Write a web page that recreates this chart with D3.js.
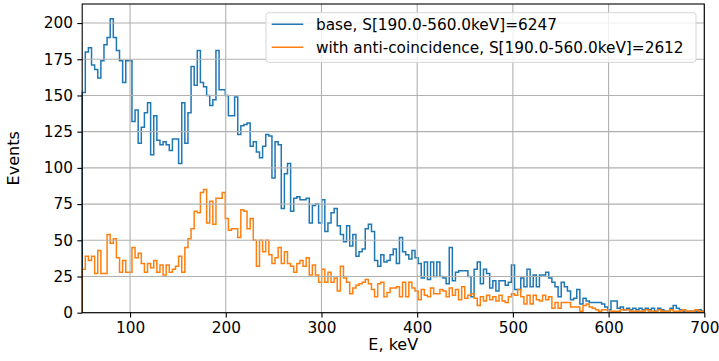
<!DOCTYPE html>
<html>
<head>
<meta charset="utf-8">
<script src="https://cdn.jsdelivr.net/npm/d3@7/dist/d3.min.js"></script>
<style>
  body { margin: 0; background: #fff; }
  text { font-family: "DejaVu Sans", sans-serif; }
</style>
</head>
<body>
<div id="chart"></div>
<script>
// histogram range, keV
const binStart = 50;
const binEnd = 700;

// counts per bin (200 bins)
const baseCounts = [
  152,180,183,171,168,162,174,185,190,203,190,181,174,159,174,174,132,140,117,128,
  138,145,109,136,119,116,118,116,112,120,120,103,145,117,138,170,157,181,159,156,
  150,143,147,181,154,154,150,136,136,149,123,129,130,131,115,118,111,107,115,123,
  122,93,118,116,72,96,103,70,79,80,78,78,79,62,74,75,62,78,56,62,
  69,72,60,54,49,60,46,54,39,42,44,58,61,56,36,32,40,35,36,40,
  44,34,52,42,40,37,43,38,34,24,35,23,35,25,35,25,24,20,45,22,
  28,29,29,29,25,11,30,35,20,30,27,17,22,15,22,22,19,21,33,16,
  16,24,18,30,18,26,18,26,26,28,24,21,18,11,21,18,15,9,10,16,
  6,10,8,7,7,7,7,6,4,2,8,8,3,4,2,3,2,3,2,3,
  2,3,2,3,1,3,2,1,1,3,5,3,2,1,1,1,1,1,2,1
];
const antiCounts = [
  30,39,36,39,27,43,27,27,54,48,51,38,28,36,28,28,45,38,41,34,
  28,34,31,36,28,33,26,33,28,30,32,39,28,45,51,58,70,69,83,85,
  62,77,61,79,79,83,65,57,58,58,52,71,70,58,65,50,32,50,42,50,
  40,34,38,45,34,42,34,32,28,34,36,32,38,26,33,26,21,30,21,28,
  21,24,15,32,24,21,13,17,19,20,21,23,20,16,11,20,21,11,14,17,
  17,18,11,21,11,21,17,15,9,16,12,11,17,13,13,16,15,11,17,12,
  16,9,18,10,12,13,10,5,11,8,12,9,11,8,12,8,7,11,13,12,
  16,11,6,12,6,12,9,8,12,9,11,3,7,3,7,7,7,4,4,4,
  1,5,6,4,3,2,1,2,2,1,1,1,1,2,2,2,1,1,1,1,
  1,2,1,1,1,2,1,1,1,2,1,1,1,2,1,1,1,2,1,1
];

const seriesNames = ['base, S[190.0-560.0keV]=6247', 'with anti-coincidence, S[190.0-560.0keV]=2612'];
const seriesColors = ['#1f77b4', '#ff7f0e'];
const xTicks = [100, 200, 300, 400, 500, 600, 700];
const yTicks = [0, 25, 50, 75, 100, 125, 150, 175, 200];
const xLabel = 'E, keV';
const yLabel = 'Events';

const W = 719, H = 361;
const margin = { top: 4, right: 14.7, bottom: 48.3, left: 82.2 };
const width = W - margin.left - margin.right;
const height = H - margin.top - margin.bottom;

const svg = d3.select('#chart').append('svg')
  .attr('width', W).attr('height', H);

const g = svg.append('g')
  .attr('transform', `translate(${margin.left},${margin.top})`);

const yMax = d3.max(baseCounts.concat(antiCounts)) * 1.05;
const x = d3.scaleLinear().domain([binStart, binEnd]).range([0, width]);
const y = d3.scaleLinear().domain([0, yMax]).range([height, 0]);

const binW = (binEnd - binStart) / baseCounts.length;

function stepPath(counts) {
  const pts = [[x(binStart), y(0)]];
  counts.forEach((c, i) => {
    pts.push([x(binStart + i * binW), y(c)]);
    pts.push([x(binStart + (i + 1) * binW), y(c)]);
  });
  pts.push([x(binEnd), y(0)]);
  return d3.line()(pts);
}

[baseCounts, antiCounts].forEach((counts, i) => {
  g.append('path')
    .attr('d', stepPath(counts))
    .attr('fill', 'none')
    .attr('stroke', seriesColors[i])
    .attr('stroke-width', 1.5)
    .attr('stroke-linejoin', 'miter');
});

// grid
g.append('g').selectAll('line').data(xTicks).enter().append('line')
  .attr('x1', d => x(d)).attr('x2', d => x(d))
  .attr('y1', 0).attr('y2', height)
  .attr('stroke', '#b0b0b0').attr('stroke-width', 1.1);
g.append('g').selectAll('line').data(yTicks).enter().append('line')
  .attr('x1', 0).attr('x2', width)
  .attr('y1', d => y(d)).attr('y2', d => y(d))
  .attr('stroke', '#b0b0b0').attr('stroke-width', 1.1);

// axes
const xAxis = g.append('g')
  .attr('transform', `translate(0,${height})`)
  .call(d3.axisBottom(x).tickValues(xTicks).tickSize(4.9).tickPadding(4.4));
const yAxis = g.append('g')
  .call(d3.axisLeft(y).tickValues(yTicks).tickSize(4.9).tickPadding(4.4));

[xAxis, yAxis].forEach(a => {
  a.select('.domain').remove();
  a.selectAll('.tick line').attr('stroke', '#000').attr('stroke-width', 1.1);
  a.selectAll('.tick text')
    .attr('fill', '#000')
    .style('font-family', '"DejaVu Sans", sans-serif')
    .style('font-size', '15.3px');
});

// frame
g.append('rect')
  .attr('x', 0).attr('y', 0).attr('width', width).attr('height', height)
  .attr('fill', 'none').attr('stroke', '#000').attr('stroke-width', 1.1);

// axis labels
svg.append('text')
  .attr('x', margin.left + width / 2).attr('y', 350)
  .attr('text-anchor', 'middle')
  .style('font-size', '16px')
  .text(xLabel);
svg.append('text')
  .attr('transform', `translate(19,${margin.top + height / 2}) rotate(-90)`)
  .attr('text-anchor', 'middle')
  .style('font-size', '16px')
  .text(yLabel);

// legend
const legend = svg.append('g').attr('transform', 'translate(266,12.7)');
legend.append('rect')
  .attr('width', 430).attr('height', 49.6)
  .attr('rx', 3).attr('ry', 3)
  .attr('fill', 'rgba(255,255,255,0.8)')
  .attr('stroke', '#d5d5d5').attr('stroke-width', 1);

seriesNames.forEach((name, i) => {
  const row = legend.append('g').attr('transform', `translate(0,${11.6 + i * 23})`);
  row.append('line')
    .attr('x1', 5.7).attr('x2', 37.3)
    .attr('stroke', seriesColors[i]).attr('stroke-width', 1.5);
  row.append('text')
    .attr('x', 50).attr('dy', '0.36em')
    .style('font-size', '15.3px')
    .text(name);
});
</script>
</body>
</html>
